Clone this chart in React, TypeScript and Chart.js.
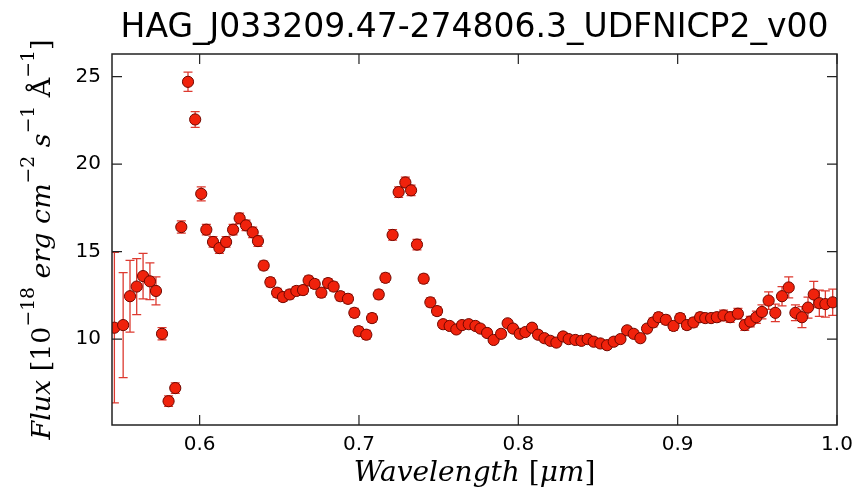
import React, { useEffect, useRef } from 'react';
import { Chart, registerables } from 'chart.js';

Chart.register(...registerables);

const TITLE = 'HAG_J033209.47-274806.3_UDFNICP2_v00';

const wavelength = [
  0.5465, 0.5520, 0.5563, 0.5605, 0.5645, 0.5688, 0.5726, 0.5764, 0.5805, 0.5847,
  0.5885, 0.5927, 0.5972, 0.6010, 0.6042, 0.6084, 0.6124, 0.6166, 0.6210, 0.6251,
  0.6291, 0.6333, 0.6366, 0.6402, 0.6444, 0.6486, 0.6523, 0.6565, 0.6607, 0.6649,
  0.6684, 0.6722, 0.6764, 0.6806, 0.6841, 0.6883, 0.6931, 0.6971, 0.6998, 0.7046,
  0.7082, 0.7124, 0.7166, 0.7211, 0.7249, 0.7291, 0.7327, 0.7364, 0.7406, 0.7448,
  0.7490, 0.7528, 0.7569, 0.7611, 0.7647, 0.7689, 0.7731, 0.7762, 0.7804, 0.7845,
  0.7892, 0.7933, 0.7967, 0.8009, 0.8044, 0.8086, 0.8124, 0.8164, 0.8201, 0.8239,
  0.8281, 0.8316, 0.8358, 0.8396, 0.8435, 0.8473, 0.8515, 0.8557, 0.8599, 0.8641,
  0.8683, 0.8724, 0.8766, 0.8808, 0.8846, 0.8880, 0.8926, 0.8974, 0.9016, 0.9058,
  0.9099, 0.9141, 0.9173, 0.9210, 0.9246, 0.9288, 0.9330, 0.9378, 0.9421, 0.9456,
  0.9494, 0.9529, 0.9571, 0.9613, 0.9655, 0.9697, 0.9739, 0.9780, 0.9818, 0.9854,
  0.9889, 0.9927, 0.9973,
];

const flux = [
  10.65, 10.8, 12.45, 13.0, 13.6, 13.3, 12.75, 10.3, 6.45, 7.2,
  16.4, 24.7, 22.55, 18.3, 16.25, 15.55, 15.2, 15.55, 16.25, 16.9,
  16.5, 16.1, 15.6, 14.2, 13.25, 12.65, 12.4, 12.55, 12.75, 12.8,
  13.35, 13.15, 12.65, 13.2, 13.0, 12.45, 12.3, 11.5, 10.45, 10.25,
  11.2, 12.55, 13.5, 15.95, 18.4, 18.95, 18.5, 15.4, 13.45, 12.1,
  11.6, 10.85, 10.75, 10.55, 10.8, 10.85, 10.75, 10.6, 10.35, 9.95,
  10.3, 10.9, 10.6, 10.3, 10.4, 10.65, 10.25, 10.05, 9.9, 9.8,
  10.15, 10.0, 9.95, 9.9, 10.0, 9.85, 9.75, 9.65, 9.85, 10.0,
  10.5, 10.3, 10.05, 10.6, 10.95, 11.25, 11.1, 10.75, 11.2, 10.8,
  10.95, 11.25, 11.2, 11.2, 11.25, 11.35, 11.25, 11.45, 10.8, 11.0,
  11.25, 11.55, 12.2, 11.5, 12.45, 12.95, 11.5, 11.25, 11.8, 12.55,
  12.05, 12.0, 12.1,
];

const fluxErr = [
  4.3, 3.0, 2.05, 1.6, 1.3, 1.05, 0.8, 0.35, 0.3, 0.3,
  0.35, 0.55, 0.45, 0.4, 0.3, 0.3, 0.3, 0.3, 0.3, 0.3,
  0.3, 0.3, 0.3, 0.25, 0.25, 0.25, 0.25, 0.25, 0.25, 0.25,
  0.25, 0.25, 0.25, 0.25, 0.25, 0.25, 0.25, 0.25, 0.25, 0.25,
  0.25, 0.25, 0.25, 0.3, 0.3, 0.3, 0.3, 0.3, 0.25, 0.25,
  0.25, 0.2, 0.2, 0.2, 0.2, 0.2, 0.2, 0.2, 0.2, 0.2,
  0.2, 0.2, 0.2, 0.2, 0.2, 0.2, 0.2, 0.2, 0.2, 0.2,
  0.2, 0.2, 0.2, 0.2, 0.2, 0.2, 0.2, 0.2, 0.2, 0.2,
  0.2, 0.2, 0.2, 0.2, 0.25, 0.25, 0.25, 0.25, 0.25, 0.25,
  0.25, 0.25, 0.25, 0.25, 0.25, 0.3, 0.3, 0.3, 0.3, 0.3,
  0.35, 0.4, 0.5, 0.5, 0.55, 0.6, 0.45, 0.6, 0.6, 0.75,
  0.75, 0.75, 0.75,
];

const X_MIN = 0.545;
const X_MAX = 1.0;
const Y_MIN = 5.09;
const Y_MAX = 26.29;

type Piece = { text: string; italic?: boolean; sup?: boolean };

const yLabelPieces: Piece[] = [
  { text: 'Flux', italic: true },
  { text: ' [10' },
  { text: '\u221218', sup: true },
  { text: ' erg cm', italic: true },
  { text: '\u22122', sup: true },
  { text: ' s', italic: true },
  { text: '\u22121', sup: true },
  { text: ' \u00C5' },
  { text: '\u22121', sup: true },
  { text: ']' },
];

const xLabelPieces: Piece[] = [
  { text: 'Wavelength', italic: true },
  { text: ' [' },
  { text: '\u03BCm', italic: true },
  { text: ']' },
];

const SERIF = '"DejaVu Serif", serif';

function pieceFont(p: Piece, size: number) {
  const s = p.sup ? size * 0.7 : size;
  return `${p.italic ? 'italic ' : ''}${s}px ${SERIF}`;
}

function measurePieces(ctx: CanvasRenderingContext2D, pieces: Piece[], size: number) {
  let w = 0;
  for (const p of pieces) {
    ctx.font = pieceFont(p, size);
    w += ctx.measureText(p.text).width;
  }
  return w;
}

function drawPieces(
  ctx: CanvasRenderingContext2D,
  pieces: Piece[],
  cx: number,
  cy: number,
  size: number,
  rotate: boolean,
) {
  const total = measurePieces(ctx, pieces, size);
  ctx.save();
  ctx.translate(cx, cy);
  if (rotate) ctx.rotate(-Math.PI / 2);
  ctx.textBaseline = 'alphabetic';
  ctx.textAlign = 'left';
  ctx.fillStyle = '#000';
  let x = -total / 2;
  for (const p of pieces) {
    ctx.font = pieceFont(p, size);
    ctx.fillText(p.text, x, p.sup ? -size * 0.6 : 0);
    x += ctx.measureText(p.text).width;
  }
  ctx.restore();
}

const errorBarPlugin = {
  id: 'errorBars',
  beforeDatasetsDraw(chart: any) {
    const { ctx, chartArea, scales } = chart;
    const xs = scales.x;
    const ys = scales.y;
    ctx.save();
    ctx.beginPath();
    ctx.rect(chartArea.left, chartArea.top, chartArea.right - chartArea.left, chartArea.bottom - chartArea.top);
    ctx.clip();
    ctx.strokeStyle = '#dd3a30';
    ctx.lineWidth = 1.3;
    for (let i = 0; i < wavelength.length; i++) {
      const px = xs.getPixelForValue(wavelength[i]);
      const y1 = ys.getPixelForValue(flux[i] - fluxErr[i]);
      const y2 = ys.getPixelForValue(flux[i] + fluxErr[i]);
      ctx.beginPath();
      ctx.moveTo(px, y1);
      ctx.lineTo(px, y2);
      ctx.moveTo(px - 4.5, y1);
      ctx.lineTo(px + 4.5, y1);
      ctx.moveTo(px - 4.5, y2);
      ctx.lineTo(px + 4.5, y2);
      ctx.stroke();
    }
    ctx.restore();
  },
};

const framePlugin = {
  id: 'frameAndLabels',
  afterDraw(chart: any) {
    const { ctx, chartArea, scales } = chart;
    const { left, right, top, bottom } = chartArea;
    ctx.save();
    ctx.strokeStyle = '#222';
    ctx.lineWidth = 1.5;
    ctx.strokeRect(left, top, right - left, bottom - top);
    const TL = 10;
    ctx.lineWidth = 1.2;
    ctx.beginPath();
    for (const t of scales.x.ticks) {
      const px = scales.x.getPixelForValue(t.value);
      ctx.moveTo(px, bottom);
      ctx.lineTo(px, bottom - TL);
      ctx.moveTo(px, top);
      ctx.lineTo(px, top + TL);
    }
    for (const t of scales.y.ticks) {
      const py = scales.y.getPixelForValue(t.value);
      ctx.moveTo(left, py);
      ctx.lineTo(left + TL, py);
      ctx.moveTo(right, py);
      ctx.lineTo(right - TL, py);
    }
    ctx.stroke();

    // title
    ctx.fillStyle = '#000';
    ctx.font = '33px "DejaVu Sans", sans-serif';
    ctx.textAlign = 'center';
    ctx.textBaseline = 'alphabetic';
    ctx.fillText(TITLE, (left + right) / 2, 37);

    // x label
    drawPieces(ctx, xLabelPieces, (left + right) / 2, 481, 28, false);

    // y label, fitted to the axis height span seen in the reference
    const base = 26;
    const w = measurePieces(ctx, yLabelPieces, base);
    const size = (base * 400) / w;
    drawPieces(ctx, yLabelPieces, 50, (top + bottom) / 2, size, true);
    ctx.restore();
  },
};

export default function App() {
  const canvasRef = useRef<HTMLCanvasElement | null>(null);

  useEffect(() => {
    document.body.style.margin = '0';
    const canvas = canvasRef.current;
    if (!canvas) return;
    const chart = new Chart(canvas, {
      type: 'scatter',
      data: {
        datasets: [
          {
            label: 'flux',
            data: wavelength.map((w, i) => ({ x: w, y: flux[i] })),
            backgroundColor: '#f0220c',
            borderColor: '#700800',
            borderWidth: 1,
            pointRadius: 5.6,
            pointHoverRadius: 5.6,
            clip: 0,
          } as any,
        ],
      },
      options: {
        animation: false,
        responsive: false,
        devicePixelRatio: 1,
        layout: { padding: { left: 0, top: 54, right: 15, bottom: 0 } },
        plugins: {
          legend: { display: false },
          title: { display: false },
          tooltip: { enabled: false },
        },
        events: [],
        scales: {
          x: {
            type: 'linear',
            min: X_MIN,
            max: X_MAX,
            grid: { display: false, drawTicks: false },
            border: { display: false },
            ticks: {
              stepSize: 0.1,
              includeBounds: false,
              maxRotation: 0,
              padding: 8,
              color: '#000',
              font: { family: 'DejaVu Sans', size: 20 },
              callback: (v: any) => Number(v).toFixed(1),
            },
            afterFit: (s: any) => {
              s.height = 70;
              s.paddingLeft = 0;
              s.paddingRight = 0;
            },
          },
          y: {
            type: 'linear',
            min: Y_MIN,
            max: Y_MAX,
            grid: { display: false, drawTicks: false },
            border: { display: false },
            ticks: {
              stepSize: 5,
              includeBounds: false,
              padding: 11,
              color: '#000',
              font: { family: 'DejaVu Sans', size: 20 },
              callback: (v: any) => String(Math.round(Number(v))),
            },
            afterFit: (s: any) => {
              s.width = 112;
              s.paddingTop = 0;
              s.paddingBottom = 0;
            },
          },
        },
      } as any,
      plugins: [errorBarPlugin, framePlugin],
    });
    return () => chart.destroy();
  }, []);

  return (
    <div style={{ width: 852, height: 495, background: '#fff' }}>
      <canvas ref={canvasRef} width={852} height={495} />
    </div>
  );
}
